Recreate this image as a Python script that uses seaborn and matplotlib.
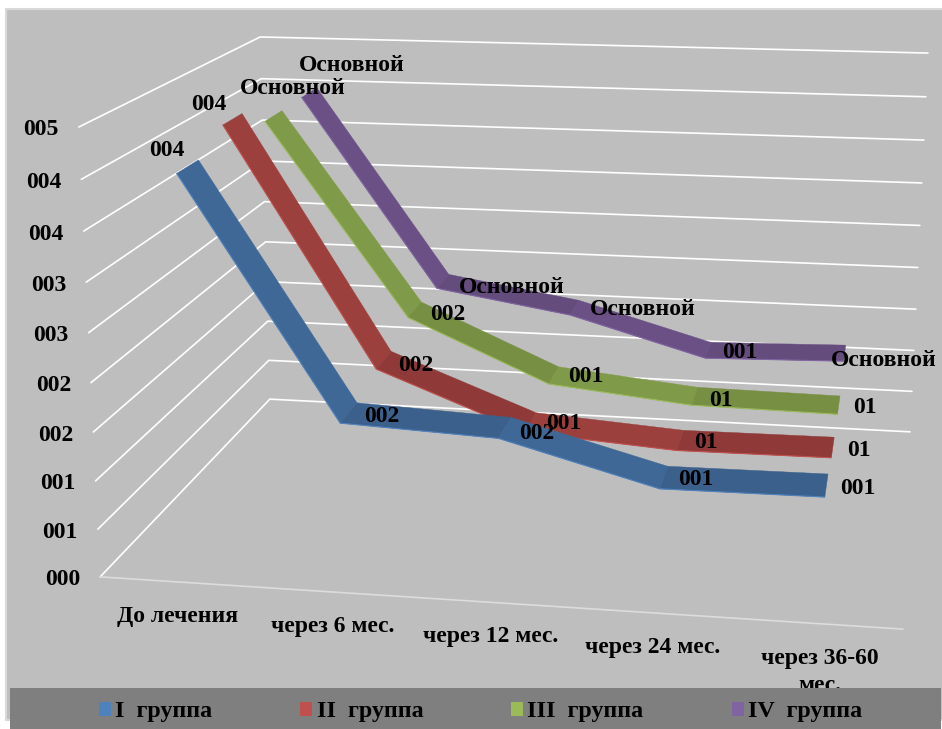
import numpy as np
import pandas as pd
import matplotlib
matplotlib.use('Agg')
import matplotlib.pyplot as plt
from matplotlib.patches import Patch, Rectangle
import seaborn as sns

categories = ['До лечения', 'через 6 мес.', 'через 12 мес.', 'через 24 мес.', 'через 36-60\nмес.']
groups = ['I  группа', 'II  группа', 'III  группа', 'IV  группа']
group_1 = [3.99, 1.57, 1.50, 1.08, 1.09]
group_2 = [4.19, 1.68, 1.08, 0.97, 0.98]
group_3 = [3.96, 1.83, 1.15, 0.99, 0.97]
group_4 = [3.97, 1.78, 1.53, 1.09, 1.13]
levels = [0, 0.5, 1, 1.5, 2, 2.5, 3, 3.5, 4, 4.5]
level_labels = ['000', '001', '001', '002', '002', '003', '003', '004', '004', '005']
text_1 = ['004', '002', '002', '001', '001']
text_2 = ['004', '002', '001', '01', '01']
text_3 = ['Основной', '002', '001', '01', '01']
text_4 = ['Основной', 'Основной', 'Основной', '001', 'Основной']

# where the data labels sit on the page
label_pos = [
    [(167, 150), (382, 416), (537, 433), (696, 479), (858, 488)],
    [(209, 104), (416, 365), (564, 423), (706, 442), (859, 450)],
    [(293, 88), (448, 314), (586, 376), (721, 400), (865, 407)],
    [(352, 65), (512, 287), (643, 309), (740, 352), (884, 360)],
]
colors = ['#4F81BD', '#C0504D', '#9BBB59', '#8064A2']
face_light = ['#3F6897', '#9B403D', '#7F9A48', '#6A5085']
face_dark = ['#3B608C', '#8F3A38', '#778F43', '#644C7D']
depths = [0.133, 0.383, 0.633, 0.883]
half_width = 0.056
serif = 'Liberation Serif'

# chart box as it looks in the picture: (category, depth, value) -> page pixel
box = [((0, 0, 0), (100, 577)), ((0, 0, 4.5), (79, 127)), ((0, 1, 0), (270, 399)), ((0, 1, 4.5), (260, 37)),
       ((5, 1, 0), (910, 432)), ((5, 1, 4.5), (928, 53)), ((5, 0, 0), (903, 629))]
A, b = [], []
for (u, d, z), (x, y) in box:
    A.append([u, d, z, 1, 0, 0, 0, 0, -x * u, -x * d, -x * z])
    b.append(x)
    A.append([0, 0, 0, 0, u, d, z, 1, -y * u, -y * d, -y * z])
    b.append(y)
P = np.append(np.linalg.lstsq(np.array(A, float), np.array(b, float), rcond=None)[0], 1).reshape(3, 4)


def proj(u, d, z):
    v = P @ np.array([u, d, z, 1.0])
    return v[0] / v[2], v[1] / v[2]


sns.set_style('white')
plt.rcParams['font.family'] = [serif, 'DejaVu Serif']
plt.rcParams['text.color'] = 'black'
fig = plt.figure(figsize=(9.42, 7.29), dpi=100)
ax = fig.add_axes([0, 0, 1, 1])
ax.set_xlim(0, 942)
ax.set_ylim(729, 0)
ax.axis('off')

ax.add_patch(Rectangle((6, 9), 940, 711, fc='#BEBEBE', ec='#D9D9D9', lw=1.5, zorder=0))

# gridlines
rows = []
for i, z in enumerate(levels):
    for u, d in [(0, 0), (0, 1), (5, 1)]:
        px, py = proj(u, d, z)
        rows.append({'level': i, 'px': px, 'py': py})
grid = pd.DataFrame(rows)
sns.lineplot(data=grid, x='px', y='py', units='level', estimator=None, sort=False,
             color='white', lw=1.2, ax=ax, legend=False, zorder=1)
ax.set_xlim(0, 942)
ax.set_ylim(729, 0)
fx, fy = zip(proj(0, 0, 0), proj(5, 0, 0))
ax.plot(fx, fy, color='#DCDCDC', lw=1.2, zorder=1)

for z, lab in zip(levels, level_labels):
    px, py = proj(0, 0, z)
    ax.text(px - 20, py + 3, lab, ha='right', va='center', fontsize=17, fontweight='bold', zorder=5)

# ribbons, back one first
series = [group_1, group_2, group_3, group_4]
for s in [3, 2, 1, 0]:
    vals = series[s]
    d = depths[s]
    for i in range(len(vals) - 1):
        pts = [proj(i + .5, d - half_width, vals[i]), proj(i + 1.5, d - half_width, vals[i + 1]),
               proj(i + 1.5, d + half_width, vals[i + 1]), proj(i + .5, d + half_width, vals[i])]
        fc = face_light[s] if i % 2 == 0 else face_dark[s]
        ax.fill(*zip(*pts), fc=fc, ec=fc, lw=0.3, zorder=2 + (3 - s) * 0.1)
    lip = [proj(i + .5, d - half_width, v) for i, v in enumerate(vals)]
    ax.plot(*zip(*lip), color=colors[s], lw=0.8, zorder=2.05 + (3 - s) * 0.1, solid_joinstyle='miter')

all_text = [text_1, text_2, text_3, text_4]
for s in range(4):
    for t, (px, py) in zip(all_text[s], label_pos[s]):
        ax.text(px, py, t, ha='center', va='center', fontsize=17, fontweight='bold', zorder=6)

# category labels hang below the front edge of the floor, the band cuts the last one
for i, c in enumerate(categories):
    px, py = proj(i + .5, 0, 0)
    ax.text(px + 1, py + 24, c, ha='center', va='top', fontsize=17, fontweight='bold', linespacing=1.4, zorder=3)

ax.add_patch(Rectangle((10, 688), 931, 41, fc='#7F7F7F', ec='none', zorder=7))
handles = [Patch(fc=c, ec='none', label=g) for c, g in zip(colors, groups)]
leg = ax.legend(handles=handles, ncol=4, loc='center left', bbox_to_anchor=(99, 712), bbox_transform=ax.transData,
                frameon=False, borderpad=0, borderaxespad=0, handlelength=0.5, handleheight=0.5,
                handletextpad=0.17, columnspacing=3.67,
                prop={'family': serif, 'weight': 'bold', 'size': 17.3})
leg.set_zorder(8)
fig.savefig('out.png', dpi=100)
